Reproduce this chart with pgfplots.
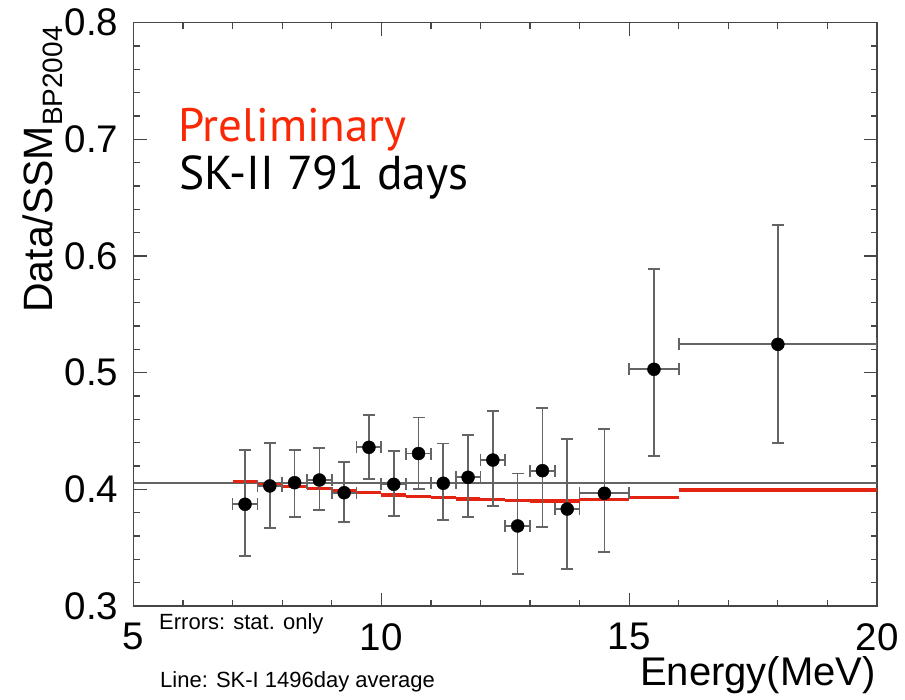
\documentclass[border=0pt]{standalone}
\usepackage{pgfplots}
\usepackage{pgfplotstable}
\pgfplotsset{compat=1.18}
\usepackage{fontspec}
\setmainfont{Liberation Sans}
\newfontfamily\slidefont{PT Sans}
\definecolor{prelred}{RGB}{250,40,5}
\definecolor{linered}{RGB}{228,36,18}
\definecolor{errgray}{RGB}{100,100,100}
\definecolor{axgray}{RGB}{70,70,70}

\pgfplotstableread{
x     y      exm  exp  eym    eyp
7.25  0.3872 0.25 0.25 0.0443 0.0465
7.75  0.4029 0.25 0.25 0.0358 0.0366
8.25  0.4057 0.25 0.25 0.0292 0.0280
8.75  0.4080 0.25 0.25 0.0257 0.0272
9.25  0.3971 0.25 0.25 0.0248 0.0266
9.75  0.4360 0.25 0.25 0.0274 0.0277
10.25 0.4043 0.25 0.25 0.0272 0.0288
10.75 0.4307 0.25 0.25 0.0307 0.0310
11.25 0.4052 0.25 0.25 0.0315 0.0340
11.75 0.4103 0.25 0.25 0.0338 0.0363
12.25 0.4251 0.25 0.25 0.0391 0.0423
12.75 0.3686 0.25 0.25 0.0409 0.0451
13.25 0.4160 0.25 0.25 0.0480 0.0540
13.75 0.3831 0.25 0.25 0.0516 0.0600
14.5  0.3966 0.5  0.5  0.0501 0.0551
15.5  0.5029 0.5  0.5  0.0743 0.0857
18.0  0.5243 2.0  2.0  0.0843 0.1023
}\datatable

\pgfplotstableread{
x     y
7.0   0.4066
7.5   0.4066
nan   nan
7.5   0.4037
8.0   0.4037
nan   nan
8.0   0.4023
8.5   0.4023
nan   nan
8.5   0.4009
9.0   0.4009
nan   nan
9.0   0.3988
9.5   0.3988
nan   nan
9.5   0.3971
10.0  0.3971
nan   nan
10.0  0.3951
10.5  0.3951
nan   nan
10.5  0.3937
11.0  0.3937
nan   nan
11.0  0.3928
11.5  0.3928
nan   nan
11.5  0.3917
12.0  0.3917
nan   nan
12.0  0.3912
12.5  0.3912
nan   nan
12.5  0.3906
13.0  0.3906
nan   nan
13.0  0.3900
13.5  0.3900
nan   nan
13.5  0.3900
14.0  0.3900
nan   nan
14.0  0.3915
15.0  0.3915
nan   nan
15.0  0.3928
16.0  0.3928
nan   nan
16.0  0.3994
20.0  0.3994
}\skline

\begin{document}
\begin{tikzpicture}
\path[use as bounding box] (0,0) rectangle (905pt,699pt);
\begin{axis}[
  at={(133.5pt,93pt)}, anchor=south west,
  scale only axis, width=743.5pt, height=583.3pt,
  xmin=5, xmax=20, ymin=0.3, ymax=0.8,
  xtick={5,10,15,20}, ytick={0.3,0.4,0.5,0.6,0.7,0.8},
  minor x tick num=4, minor y tick num=4,
  tick align=inside, xtick pos=both, ytick pos=both,
  major tick length=13pt, minor tick length=6pt,
  tick style={line width=1.2pt, color=axgray},
  axis line style={line width=1.5pt, color=axgray},
  /pgf/number format/assume math mode=true,
  yticklabel={\pgfmathprintnumber[fixed, fixed zerofill, precision=1]{\tick}},
  ticklabel style={font=\fontsize{38.5}{38.5}\selectfont, inner sep=0pt},
  xticklabel shift=17pt, yticklabel shift=15pt,
  unbounded coords=jump,
  clip=true,
]
\addplot[color=errgray, line width=1.6pt] coordinates {(5,0.4052) (20,0.4052)};
\addplot[color=linered, line width=3.2pt] table[x=x, y=y] {\skline};
\addplot[only marks, mark=*, mark size=6.5pt, color=black,
  error bars/x dir=both, error bars/x explicit,
  error bars/y dir=both, error bars/y explicit,
  /pgfplots/error bars/error bar style={line width=1.7pt, draw=errgray},
  /pgfplots/error bars/error mark=-,
  /pgfplots/error bars/error mark options={rotate=90, line width=1.7pt, draw=errgray, mark size=6pt}]
  table[x=x, y=y, x error minus=exm, x error plus=exp, y error minus=eym, y error plus=eyp] {\datatable};
\end{axis}
\node[rotate=90, anchor=base west, inner sep=0pt] at (52pt,386pt)
  {\fontsize{41}{41}\selectfont Data/SSM\raisebox{-10pt}{\fontsize{28}{28}\selectfont BP2004}};
\node[anchor=base west, inner sep=0pt, text=prelred] at (178pt,557pt)
  {\slidefont\fontsize{47}{47}\selectfont Preliminary};
\node[anchor=base west, inner sep=0pt] at (179pt,509pt)
  {\slidefont\fontsize{47.5}{47.5}\selectfont SK-II 791 days};
\node[anchor=base west, inner sep=0pt] at (159pt,69pt)
  {\fontsize{22}{22}\selectfont Errors: stat. only};
\node[anchor=base west, inner sep=0pt] at (160pt,12pt)
  {\fontsize{22}{22}\selectfont Line: SK-I 1496day average};
\node[anchor=base east, inner sep=0pt] at (876pt,14pt)
  {\fontsize{40}{40}\selectfont Energy(MeV)};
\end{tikzpicture}
\end{document}
